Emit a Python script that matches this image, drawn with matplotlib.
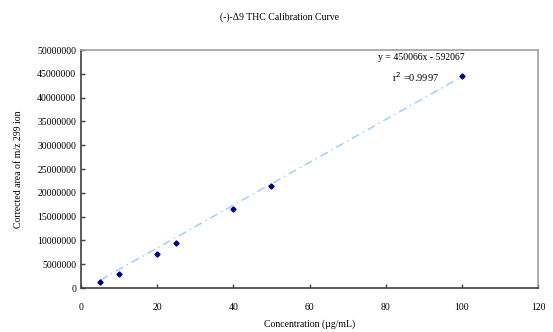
import matplotlib.pyplot as plt
import numpy as np

plt.rcParams['font.family'] = ['Liberation Serif', 'DejaVu Serif']

conc = [5, 10, 20, 25, 40, 50, 100]
area = [1.2e6, 2.9e6, 7.2e6, 9.45e6, 16.7e6, 21.4e6, 44.5e6]
slope = 450066
intercept = -592067
r2 = 0.9997

fig = plt.figure(figsize=(5.53, 3.32), dpi=100)
ax = fig.add_axes([0.1465, 0.1325, 0.8265, 0.7165])

# trendline
xs = np.array([conc[0], conc[-1]])
ax.plot(xs, slope * xs + intercept, color='#99ccff', lw=1, ls=(0, (6, 3, 1, 3)))
ax.plot(conc, area, ls='none', marker='D', ms=2.6, color='#000080')

ax.set_xlim(0, 120)
ax.set_ylim(0, 50000000)
ax.set_xticks(range(0, 121, 20))
ax.set_yticks(range(0, 50000001, 5000000))
ax.set_yticklabels([str(v) for v in range(0, 50000001, 5000000)])
ax.tick_params(direction='in', length=3, labelsize=7, width=1, color='#404040')
ax.tick_params(axis='x', pad=11)
for s in ['left', 'bottom']:
    ax.spines[s].set_color('#404040')
    ax.spines[s].set_linewidth(1.2)
for s in ['top', 'right']:
    ax.spines[s].set_color('#a0a0a0')
    ax.spines[s].set_linewidth(1.2)

ax.set_xlabel('Concentration (µg/mL)', fontsize=7, labelpad=5)
ax.set_ylabel("Corrected area of m/z 299 ion", fontsize=7, labelpad=10)
fig.text(0.505, 0.948, '(-)-Δ9 THC Calibration Curve', fontsize=7, ha='center', va='center')
fig.text(0.762, 0.828, 'y = 450066x - 592067', fontsize=7, ha='center', va='center')
fig.text(0.752, 0.768, 'r$^2$ =0.9997', fontsize=7.5, ha='center', va='center')

fig.savefig('out.png', dpi=100)
